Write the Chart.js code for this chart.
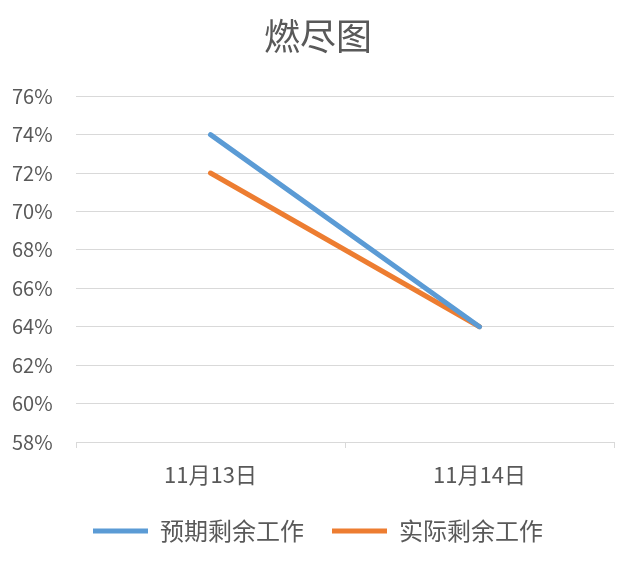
<!DOCTYPE html>
<html><head><meta charset="utf-8">
<script src="https://cdn.jsdelivr.net/npm/chart.js@4.4.1/dist/chart.umd.min.js"></script>
<style>html,body{margin:0;padding:0;background:#fff}#wrap{width:633px;height:561px}</style>
</head><body><div id="wrap"><canvas id="c" width="633" height="561"></canvas></div>
<script>
const categories = ['11月13日', '11月14日'];
const plannedRemaining = [74, 64];
const actualRemaining = [72, 64];
const seriesNames = ['预期剩余工作', '实际剩余工作'];
const yTicks = [58, 60, 62, 64, 66, 68, 70, 72, 74, 76];
const FONT = '"Noto Sans CJK SC", "Noto Sans", sans-serif';

new Chart(document.getElementById('c'), {
  type: 'line',
  data: {
    labels: categories,
    datasets: [
      { label: seriesNames[0], data: plannedRemaining, borderColor: '#5B9BD5', backgroundColor: '#5B9BD5', borderWidth: 5, pointRadius: 0, borderCapStyle: 'round', tension: 0 },
      { label: seriesNames[1], data: actualRemaining, borderColor: '#ED7D31', backgroundColor: '#ED7D31', borderWidth: 5, pointRadius: 0, borderCapStyle: 'round', tension: 0 }
    ]
  },
  options: {
    responsive: false,
    animation: false,
    layout: { padding: { left: 22, right: 19, top: 0, bottom: 8 } },
    plugins: {
      title: { display: true, text: '燃尽图', color: '#595959', font: { family: FONT, size: 36, weight: 'normal' }, padding: { top: 15, bottom: 38 } },
      legend: { position: 'bottom', labels: { color: '#595959', font: { family: FONT, size: 24 }, usePointStyle: true, pointStyle: 'line', pointStyleWidth: 55, boxHeight: 24, padding: 28 } },
      tooltip: { enabled: false }
    },
    scales: {
      x: {
        offset: true,
        grid: { display: true, offset: true, drawOnChartArea: false, drawTicks: true, tickLength: 6, color: '#D9D9D9' },
        border: { display: true, color: '#D9D9D9' },
        ticks: { color: '#595959', font: { family: FONT, size: 22 }, padding: 13 },
        afterFit: s => { s.height = 49; }
      },
      y: {
        min: 58, max: 76,
        afterBuildTicks: s => { s.ticks = yTicks.map(v => ({ value: v })); },
        grid: { color: '#D9D9D9', drawTicks: false },
        border: { display: false },
        ticks: { color: '#595959', font: { family: FONT, size: 20 }, mirror: true, padding: -64, callback: v => v + '%' },
        afterFit: s => { s.width = 54; }
      }
    }
  }
});
</script></body></html>
